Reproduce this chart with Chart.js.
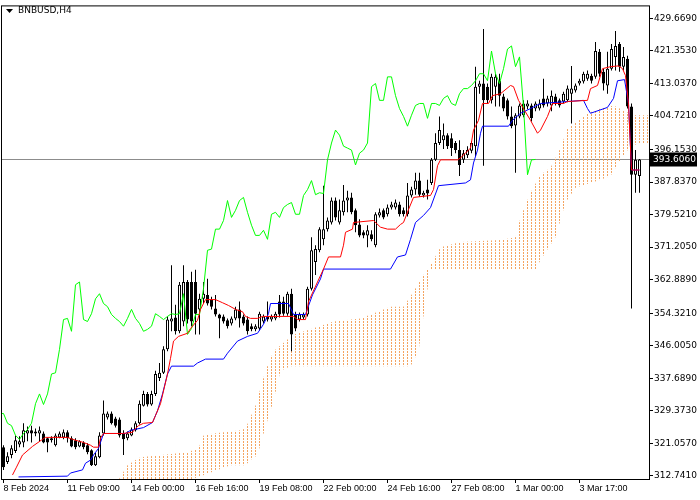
<!DOCTYPE html>
<html>
<head>
<meta charset="utf-8">
<script src="https://cdn.jsdelivr.net/npm/chart.js@4.4.1/dist/chart.umd.min.js"></script>
<style>
  html, body { margin: 0; padding: 0; background: #fff; }
</style>
</head>
<body>
<canvas id="chart" width="700" height="500"></canvas>
<script>
const symbolName = 'BNBUSD,H4';

// H4 candles, one per bar index
const opens = [320.1,316.3,318.1,319.1,320.8,321.3,323.6,324.4,323.6,323.6,
  323.6,322.4,321.9,320.6,322.6,322.6,323.9,322.4,321.9,320.3,
  321.3,320.6,319.3,315.5,317.5,323.6,327.7,328.7,327.4,327.2,
  323.6,322.4,323.1,324.4,326.2,330.7,333.7,331.0,333.7,337.8,
  339.1,345.1,352.2,353.2,349.7,352.2,362.3,362.3,362.3,355.3,
  358.0,359.0,357.8,355.5,354.0,353.5,352.5,351.7,353.0,355.3,
  353.5,352.7,351.0,350.2,350.4,352.2,353.5,352.7,353.0,357.3,
  357.3,354.2,359.3,354.0,352.7,353.2,354.0,360.6,367.4,370.4,
  373.2,375.8,377.5,383.1,377.5,380.1,383.1,383.9,380.6,377.0,
  375.0,374.2,374.5,371.7,379.3,380.6,379.6,381.3,381.3,382.1,
  380.6,379.6,384.4,385.9,388.2,384.4,385.9,387.6,393.5,397.8,
  398.5,399.8,399.0,397.8,396.0,393.5,394.7,395.8,397.0,412.2,
  413.0,412.2,408.7,412.2,413.7,409.7,408.7,404.6,402.3,404.6,
  404.9,407.1,407.4,406.6,406.6,409.2,407.9,407.4,409.7,408.7,
  408.4,408.7,410.4,411.2,413.0,413.5,414.2,415.0,414.7,421.1,
  416.0,412.5,416.8,419.8,423.1,417.3,419.3,407.1,389.7,389.4];

const highs = [320.6,318.8,320.6,323.1,322.9,326.2,325.4,325.6,324.9,325.4,
  324.1,322.6,322.9,323.6,324.1,324.6,324.4,322.9,322.4,321.9,
  321.6,321.1,319.6,318.6,323.9,332.0,329.2,329.2,327.9,327.7,
  324.4,324.1,325.1,326.7,332.0,334.5,334.2,334.5,339.6,341.6,
  345.9,353.5,366.6,356.5,362.3,366.6,362.8,364.9,365.4,359.3,
  362.3,363.1,358.5,359.0,354.2,354.0,353.0,353.5,356.0,357.3,
  354.0,353.5,351.7,351.5,354.7,354.0,357.3,354.0,354.7,359.0,
  358.5,359.8,360.6,354.7,354.5,354.5,361.1,373.7,371.7,376.3,
  386.9,378.8,383.9,383.9,383.4,387.1,385.6,385.1,381.1,378.3,
  375.5,376.8,375.5,380.1,381.1,381.1,382.1,382.8,383.4,382.8,
  381.3,387.6,386.6,390.2,390.2,385.6,388.4,394.0,400.3,404.6,
  402.8,400.3,400.3,398.3,398.5,396.0,397.0,398.3,417.3,413.7,
  426.9,413.0,415.5,415.5,415.5,410.4,409.2,407.1,405.4,407.9,
  408.7,408.7,407.9,408.4,408.9,414.2,409.9,411.2,410.4,409.2,
  410.9,412.5,417.5,413.0,414.2,416.0,416.3,415.5,423.6,421.8,
  416.8,421.1,423.1,426.4,423.6,422.3,420.1,407.9,396.0,393.7];

const lows = [314.3,315.8,317.3,318.6,320.1,320.1,321.6,321.3,322.9,321.6,
  321.1,318.8,321.3,320.3,322.4,322.1,321.3,320.1,319.6,320.1,
  319.6,318.3,315.3,315.3,317.3,323.1,327.2,325.9,325.1,322.6,
  318.1,321.9,322.9,324.1,325.9,330.5,330.5,330.7,333.2,337.0,
  338.8,344.6,349.7,348.9,349.2,351.0,351.7,351.0,348.9,348.9,
  356.8,356.3,355.3,353.5,347.9,351.7,350.4,351.2,352.5,350.7,
  351.2,348.9,349.7,349.7,349.9,351.7,352.2,352.2,352.5,353.2,
  353.7,353.7,344.6,349.7,352.2,352.7,353.5,360.1,364.1,369.9,
  371.7,375.2,377.0,378.0,377.0,379.3,380.1,379.6,375.0,373.7,
  373.5,371.2,372.7,371.2,378.8,378.3,379.0,380.8,380.8,379.0,
  379.0,379.0,383.9,384.6,384.1,383.9,383.4,387.1,393.2,397.3,
  396.3,396.3,394.5,395.2,389.4,392.7,394.0,395.2,394.5,410.4,
  392.0,407.9,407.9,407.1,407.1,405.9,403.8,401.6,390.2,404.1,
  404.4,406.4,403.3,405.9,406.1,406.9,407.1,405.9,407.4,406.9,
  407.9,408.2,402.8,410.7,412.5,413.0,413.7,413.0,414.2,414.7,
  411.2,410.4,416.3,416.3,416.0,416.3,406.6,355.5,385.1,385.1];

const closes = [315.0,317.8,319.8,321.9,321.6,324.4,324.4,323.6,324.1,324.4,
  321.3,321.3,322.4,323.1,323.6,323.9,322.4,320.3,320.1,321.6,
  320.1,318.8,315.5,317.8,323.1,328.7,328.7,326.2,325.6,323.1,
  322.1,323.6,324.6,326.2,331.2,333.7,331.0,333.7,338.8,339.1,
  345.1,352.7,353.0,349.7,361.6,362.3,352.7,352.2,354.2,358.0,
  359.3,356.8,356.0,354.0,353.0,352.2,351.0,353.0,355.3,353.0,
  351.7,349.7,350.2,351.0,354.2,353.5,352.7,353.5,354.2,354.0,
  354.2,359.3,348.9,350.4,354.0,354.0,360.6,370.4,370.7,375.8,
  375.8,378.0,383.1,378.8,380.6,383.1,383.9,380.1,376.8,374.2,
  374.2,375.5,373.2,379.6,380.1,378.8,381.3,382.1,382.6,379.6,
  379.6,384.4,385.9,388.2,384.6,385.1,384.9,393.5,397.8,401.1,
  399.8,397.0,396.5,396.0,392.2,395.2,396.0,397.8,412.2,413.0,
  408.7,408.7,414.7,414.7,409.9,406.6,404.6,402.1,404.9,407.4,
  407.9,407.9,404.1,407.9,407.9,407.4,409.2,409.9,407.9,407.4,
  410.4,411.7,411.7,412.5,413.7,415.5,415.5,413.7,421.3,415.5,
  413.0,416.8,421.8,422.6,417.3,419.8,407.1,389.7,393.5,393.606];

// Ichimoku lines as [bar, price] vertices
const tenkanPts = [[2.25,313.0],[3.25,315.0],[4.75,318.1],[7.25,320.3],[9.75,322.1],[10.5,322.6],
  [16,322.6],[17.25,322.1],[20,321.3],[21.75,320.6],[22.5,320.1],[23.75,320.1],[24.25,322.4],
  [25,323.6],[29.75,323.6],[32.25,323.9],[33,324.9],[33.75,325.6],[35,326.2],[37.25,326.4],
  [38,328.2],[39.25,331.2],[41,338.8],[41.75,342.8],[42.5,347.2],[43.75,348.4],[46,349.2],
  [46.75,350.4],[48.5,352.5],[49.25,355.3],[50.5,357.8],[53,357.8],[54.75,357.0],[56.25,356.3],
  [58,355.3],[59.75,354.7],[60.5,353.5],[61.75,353.0],[63.5,353.0],[64.75,353.5],[72.5,353.5],
  [73.5,352.7],[75.5,352.7],[76.25,357.3],[78.5,362.3],[80,365.6],[81.25,368.7],[84.25,368.7],
  [85,371.7],[85.5,375.0],[87.25,375.8],[87.5,377.5],[92.5,378.0],[94.25,376.3],[96,375.8],
  [98,375.8],[99.25,377.0],[100,377.5],[101.25,380.8],[102.5,383.9],[106.75,384.4],[107.5,385.9],
  [108.5,392.0],[109.25,393.5],[113.5,393.5],[114.25,394.0],[116.75,396.5],[117.5,401.1],
  [118.75,403.6],[119.75,407.9],[121.25,407.9],[122.25,409.9],[124.25,410.4],[126.75,412.5],
  [127.5,412.2],[128.75,408.7],[131.75,403.6],[133.5,400.3],[134.25,401.1],[136,404.6],
  [137.25,407.9],[140,407.9],[141,408.4],[146,408.7],[146.75,411.7],[148.5,412.5],[149.75,416.8],
  [151.75,417.3],[153.75,417.5],[154.75,416.8],[155.5,415.0],[156.25,407.9],[157,390.9],[159,390.9]];

const kijunPts = [[3.75,312.5],[16,312.7],[16.75,313.5],[19.75,314.3],[20.5,316.0],[21.75,316.8],
  [22.5,318.1],[23.75,319.8],[24.25,321.3],[25,323.6],[30.5,323.6],[31.75,324.4],[35,325.1],
  [37.25,326.4],[38.5,329.4],[39.75,333.7],[41,338.8],[42,340.8],[47.5,340.8],[48.5,341.6],
  [50.5,342.6],[55,342.6],[56,344.1],[58.5,347.2],[61,348.4],[63.5,349.2],[65,351.5],[66.25,354.2],
  [66.75,356.8],[71.25,356.8],[72.5,354.0],[75.5,354.0],[76,355.5],[77.25,359.0],[79.25,363.1],
  [80,365.6],[96.75,365.6],[98.5,368.7],[100.5,369.2],[101.75,373.2],[103,377.5],[105,379.3],
  [106.75,381.3],[108.75,386.9],[115.5,387.6],[116.75,388.4],[117.5,392.7],[118.5,396.0],
  [119.25,400.3],[119.75,402.1],[126.25,402.1],[127.25,403.6],[129.25,405.4],[131.75,406.6],
  [134.25,407.9],[145,408.7],[146,406.6],[146.75,405.4],[151,406.9],[152.5,409.2],[153.5,413.7],
  [155.25,414.0],[156.25,407.9],[157,390.9],[159,390.9]];

const spanAPts = [[28.75,311.7],[31,315.5],[33,316.8],[34.25,317.5],[46,318.8],[48.75,319.8],
  [50,323.1],[52.5,323.6],[59.25,324.4],[60.5,324.9],[63,330.7],[65.5,339.6],[67.5,344.6],
  [72.5,348.9],[76.75,350.2],[82.5,352.2],[89.25,353.0],[96.75,356.0],[100,356.0],[102.5,359.8],
  [105,364.1],[106.75,366.6],[109.25,371.2],[114.25,372.5],[124.25,373.0],[128,373.7],
  [129.25,378.8],[131.75,385.1],[134.25,389.7],[136.75,391.5],[139.25,396.5],[141,401.6],
  [143.5,403.3],[146,405.4],[149.25,406.6],[152.5,407.4],[157.5,404.9],[161.75,404.9]];

const spanBPts = [[28.75,311.7],[46.75,311.7],[49.25,312.7],[56.75,315.5],[60.5,315.5],
  [61.75,316.8],[63.5,318.1],[65,323.6],[67.5,332.0],[69.25,339.6],[71.75,340.8],[101.75,340.8],
  [103.75,344.6],[105.5,357.3],[106.75,365.4],[133,365.4],[134.25,367.9],[138,373.7],
  [140.5,382.6],[143,386.4],[146.75,387.6],[149.25,388.4],[151.75,389.4],[154.25,393.5],
  [156.75,397.0],[159.25,397.8],[161.75,397.8]];

const chikouShift = 26;

// axis ticks
const timeTickBars = [0, 16, 32, 48, 64, 80, 96, 112, 128, 144];
const timeLabels = ['8 Feb 2024', '11 Feb 09:00', '14 Feb 00:00', '16 Feb 16:00', '19 Feb 08:00',
  '22 Feb 00:00', '24 Feb 16:00', '27 Feb 08:00', '1 Mar 00:00', '3 Mar 17:00'];
const priceTicks = [429.669, 421.353, 413.037, 404.721, 396.153, 387.837, 379.521, 371.205,
  362.889, 354.321, 346.005, 337.689, 329.373, 321.057, 312.741];

const canvas = document.getElementById('chart');

// dotted vertical hatch for the cloud, one column per bar
function makeHatch(color) {
  const tile = document.createElement('canvas');
  tile.width = 4;
  tile.height = 3;
  const g = tile.getContext('2d');
  g.fillStyle = color;
  g.fillRect(3, 0, 1, 2);
  return canvas.getContext('2d').createPattern(tile, 'repeat');
}

const toXY = pts => pts.map(p => ({ x: p[0], y: p[1] }));

const mtDecor = {
  id: 'mtDecor',
  beforeDatasetsDraw(chart) {
    const { ctx, chartArea: a, scales: { y } } = chart;
    const py = Math.round(y.getPixelForValue(closes[closes.length - 1])) + 0.5;
    ctx.save();
    ctx.strokeStyle = '#8c8c8c';
    ctx.lineWidth = 1;
    ctx.beginPath();
    ctx.moveTo(a.left, py);
    ctx.lineTo(a.right, py);
    ctx.stroke();
    ctx.restore();
  },
  afterDraw(chart) {
    const { ctx, chartArea: a, scales: { y } } = chart;
    const last = closes[closes.length - 1];
    const py = Math.round(y.getPixelForValue(last)) + 0.5;
    ctx.save();
    ctx.strokeStyle = '#000';
    ctx.lineWidth = 1;
    ctx.strokeRect(a.left - 0.5, a.top - 0.5, a.right - a.left + 1, a.bottom - a.top + 1);

    // current price tag
    ctx.fillStyle = '#000';
    ctx.fillRect(a.right + 1, py - 7, 47, 14);
    ctx.fillStyle = '#fff';
    ctx.font = '9px "DejaVu Sans"';
    ctx.textBaseline = 'middle';
    ctx.textAlign = 'left';
    ctx.fillText(last.toFixed(4), a.right + 4, py + 0.5);

    // symbol caption
    ctx.fillStyle = '#000';
    ctx.beginPath();
    ctx.moveTo(6, 9);
    ctx.lineTo(13, 9);
    ctx.lineTo(9.5, 13);
    ctx.closePath();
    ctx.fill();
    ctx.fillText(symbolName, 18, 11);
    ctx.restore();
  }
};

new Chart(canvas, {
  data: {
    datasets: [
      {
        type: 'line',
        label: 'Senkou A',
        data: toXY(spanAPts),
        borderWidth: 0,
        pointRadius: 0,
        backgroundColor: makeHatch('#f4a460'),
        fill: '+1',
        order: 10,
        clip: 0
      },
      {
        type: 'line',
        label: 'Senkou B',
        data: toXY(spanBPts),
        borderWidth: 0,
        pointRadius: 0,
        fill: false,
        order: 11,
        clip: 0
      },
      {
        type: 'bar',
        label: 'wicks',
        data: highs.map((h, i) => ({ x: i, y: [lows[i], h] })),
        backgroundColor: '#000',
        barThickness: 1,
        grouped: false,
        inflateAmount: 0,
        order: 4,
        clip: 0
      },
      {
        type: 'bar',
        label: 'bodies',
        data: opens.map((o, i) => ({ x: i, y: [o, closes[i]] })),
        backgroundColor: c => closes[c.dataIndex] >= opens[c.dataIndex] ? '#fff' : '#000',
        borderColor: '#000',
        borderWidth: 1,
        borderSkipped: false,
        barThickness: 3,
        minBarLength: 1,
        grouped: false,
        inflateAmount: 0,
        order: 3,
        clip: 0
      },
      {
        type: 'line',
        label: 'Chikou',
        data: closes.map((c, i) => ({ x: i - chikouShift, y: c })),
        borderColor: '#00ff00',
        borderWidth: 1,
        pointRadius: 0,
        fill: false,
        order: 2,
        clip: 0
      },
      {
        type: 'line',
        label: 'Kijun',
        data: toXY(kijunPts),
        borderColor: '#0000ff',
        borderWidth: 1,
        pointRadius: 0,
        fill: false,
        order: 1,
        clip: 0
      },
      {
        type: 'line',
        label: 'Tenkan',
        data: toXY(tenkanPts),
        borderColor: '#ff0000',
        borderWidth: 1,
        pointRadius: 0,
        fill: false,
        order: 0,
        clip: 0
      }
    ]
  },
  options: {
    responsive: false,
    animation: false,
    devicePixelRatio: 1,
    layout: { padding: { left: 2, top: 2, right: 0, bottom: 0 } },
    plugins: {
      legend: { display: false },
      tooltip: { enabled: false }
    },
    scales: {
      x: {
        type: 'linear',
        position: 'bottom',
        offset: false,
        min: -0.375,
        max: 161.375,
        afterFit: s => { s.height = 21; },
        afterBuildTicks: s => { s.ticks = timeTickBars.map(v => ({ value: v })); },
        grid: { offset: false, drawOnChartArea: false, drawTicks: true, tickLength: 4, color: '#000' },
        border: { display: false },
        ticks: {
          align: 'start',
          autoSkip: false,
          maxRotation: 0,
          padding: 0,
          color: '#000',
          font: { family: 'Liberation Sans', size: 9 },
          callback: (v, i) => timeLabels[i]
        }
      },
      y: {
        type: 'linear',
        position: 'right',
        min: 311.97,
        max: 432.70,
        afterFit: s => { s.width = 51; },
        afterBuildTicks: s => { s.ticks = priceTicks.map(v => ({ value: v })); },
        grid: { drawOnChartArea: false, drawTicks: true, tickLength: 4, color: '#000' },
        border: { display: false },
        ticks: {
          crossAlign: 'near',
          padding: 1,
          color: '#000',
          font: { family: 'DejaVu Sans', size: 9 },
          callback: v => v.toFixed(4)
        }
      }
    }
  },
  plugins: [mtDecor]
});
</script>
</body>
</html>
